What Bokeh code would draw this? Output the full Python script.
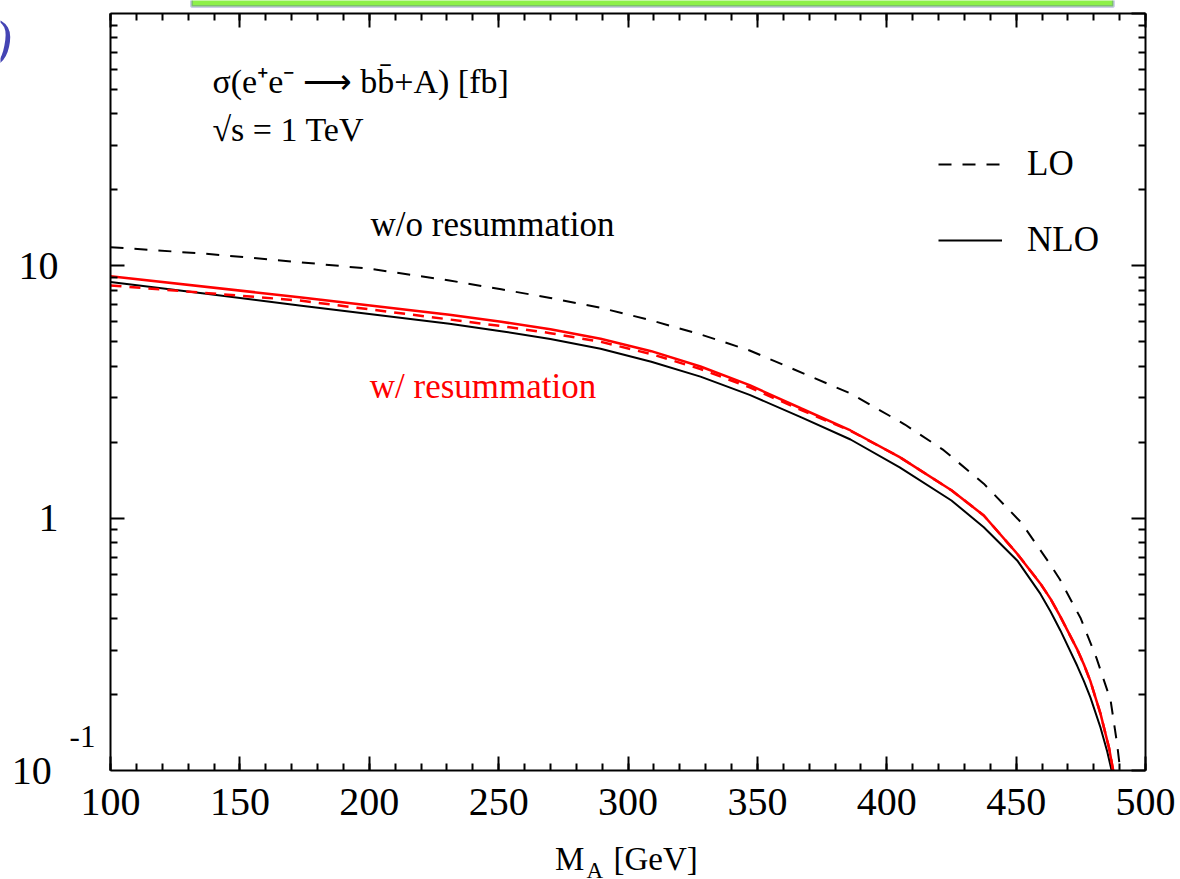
from bokeh.plotting import figure
from bokeh.models import (LinearAxis, LogAxis, Label, Legend, LegendItem,
                          FixedTicker, SingleIntervalTicker, BoxAnnotation)
from bokeh.embed import file_html
from bokeh.resources import INLINE

# ---- data ----
m_lo = [100, 137, 173, 200, 231, 251, 270, 289.4, 309, 328, 347, 386, 407, 422, 437.5,
        452, 463, 467, 475, 481, 486.5, 489, 490.5, 491.5]
sig_lo = [11.86, 11.16, 10.34, 9.74, 8.75, 8.07, 7.46, 6.82, 6.08, 5.35, 4.62, 3.12,
          2.35, 1.86, 1.37, 0.96, 0.66, 0.57, 0.40, 0.28, 0.19, 0.128, 0.095, 0.075]

m_nlo = [100, 137, 173, 231, 251, 270, 289.4, 309, 328, 347, 367, 386, 405, 425, 437.5,
         450.4, 459.4, 463.3, 467.1, 473.6, 476.2, 478.7, 482.6, 485.2, 486.9, 488]
sig_nlo = [8.62, 7.75, 6.97, 5.9, 5.51, 5.13, 4.69, 4.17, 3.64, 3.08, 2.51, 2.05, 1.59,
           1.175, 0.921, 0.68, 0.501, 0.427, 0.359, 0.26, 0.226, 0.195, 0.148, 0.119,
           0.1, 0.085]

m_res = [100, 173, 231, 251, 270, 289.4, 309, 328, 347, 367, 386, 405, 425, 437.5,
         450.4, 459.4, 463.3, 467.1, 473.6, 476.2, 478.7, 482.6, 485.9, 487.5, 488.5]
sig_res = [9.10, 7.51, 6.4, 6.0, 5.61, 5.14, 4.59, 3.99, 3.365, 2.72, 2.226, 1.745,
           1.29, 1.025, 0.723, 0.55, 0.479, 0.407, 0.302, 0.263, 0.226, 0.168, 0.123,
           0.1, 0.085]

m_res_lo = [100, 173, 231, 251, 270, 289.4, 309, 328, 347, 367, 386, 405, 425, 437.5,
            450.4, 459.4, 463.3, 467.1, 473.6, 476.2, 478.7, 482.6, 485.9, 487.5, 488.5]
sig_res_lo = [8.36, 7.29, 6.13, 5.77, 5.41, 5.0, 4.47, 3.9, 3.3, 2.68, 2.22, 1.745,
              1.29, 1.025, 0.723, 0.55, 0.479, 0.407, 0.302, 0.263, 0.226, 0.168, 0.123,
              0.1, 0.085]

x_lim = (100, 500)
y_lim = (0.1, 100)
y_labelled = [1, 10]
y_label_text = {1: "1", 10: "10"}
y_all_major = [0.1, 1, 10, 100]

FONT = "Liberation Serif"
W, H = 1180, 879
BL, BR, BT, BB = 110, 35, 13, 109

p = figure(width=W, height=H, x_range=x_lim, y_range=y_lim,
           y_axis_type="log", output_backend="svg", toolbar_location=None,
           min_border_left=BL, min_border_right=BR, min_border_top=BT,
           min_border_bottom=BB, x_axis_location=None, y_axis_location=None)
p.grid.visible = False
p.outline_line_color = None
p.background_fill_color = "white"
p.border_fill_color = "white"

y_minor = [m * d for d in (0.1, 1, 10) for m in range(2, 10)]
xt = SingleIntervalTicker(interval=50, num_minor_ticks=5)
yt_lab = FixedTicker(ticks=y_labelled, minor_ticks=y_minor)
yt_all = FixedTicker(ticks=y_all_major, minor_ticks=y_minor)


def style(ax, labels=True):
    ax.axis_line_width = 2
    ax.axis_line_color = "black"
    ax.major_tick_line_width = 2
    ax.minor_tick_line_width = 2
    ax.major_tick_in = 14
    ax.major_tick_out = 0
    ax.minor_tick_in = 7
    ax.minor_tick_out = 0
    ax.major_tick_line_color = "black"
    ax.minor_tick_line_color = "black"
    ax.major_label_text_font = FONT
    ax.major_label_text_color = "black"
    if labels:
        ax.major_label_text_font_size = "40px"
    else:
        ax.major_label_text_font_size = "1px"
        ax.major_label_text_alpha = 0
        ax.major_label_standoff = 0


bottom = LinearAxis(ticker=xt)
style(bottom)
bottom.major_label_standoff = 18
top = LinearAxis(ticker=xt)
style(top, labels=False)
left = LogAxis(ticker=yt_lab, major_label_overrides=y_label_text)
style(left)
left.major_label_standoff = 52
right = LogAxis(ticker=yt_all)
style(right, labels=False)
p.add_layout(bottom, "below")
p.add_layout(top, "above")
p.add_layout(left, "left")
p.add_layout(right, "right")

r_lo = p.line(m_lo, sig_lo, line_color="black", line_width=2, line_dash="13 11")
r_nlo = p.line(m_nlo, sig_nlo, line_color="black", line_width=2)
p.line(m_res_lo, sig_res_lo, line_color="#ff0000", line_width=2.5, line_dash="11 8")
p.line(m_res, sig_res, line_color="#ff0000", line_width=2.5)

legend = Legend(items=[LegendItem(label="LO", renderers=[r_lo]),
                       LegendItem(label="NLO", renderers=[r_nlo])],
                location=(828, 510), padding=0, margin=0, spacing=36,
                glyph_width=64, glyph_height=40, label_height=40,
                label_standoff=25, label_text_font=FONT,
                label_text_color="black",
                label_text_font_size="35px", border_line_alpha=0,
                background_fill_alpha=0)
p.add_layout(legend)


def lab(fig, x, y, text, size="33px", color="black", baseline="alphabetic",
        style_="normal"):
    fig.add_layout(Label(x=x, y=y, text=text, text_font=FONT, text_font_size=size,
                         text_color=color, text_baseline=baseline,
                         text_font_style=style_))


lab(p, 139.4, 53.8, "σ(e⁺e⁻ ⟶ bb̄+A) [fb]", "34px")
lab(p, 139.4, 34.7, "√s = 1 TeV", "34px")
lab(p, 200.5, 14.6, "w/o resummation", "35px")
lab(p, 200.2, 3.34, "w/ resummation", "35px", "#ff0000")

# ---- transparent overlay (separate root) with the same data mapping, covering the
#      whole canvas, for texts that sit outside the plot frame ----
fw = W - BL - BR
fh = H - BT - BB
ppx = fw / (x_lim[1] - x_lim[0])
ppy = fh / 3.0  # three decades
ov_x = (x_lim[0] - BL / ppx, x_lim[1] + BR / ppx)
ov_y = (10 ** (-1 - BB / ppy), 10 ** (2 + BT / ppy))

q = figure(width=W, height=H, x_range=ov_x, y_range=ov_y, y_axis_type="log",
           output_backend="svg", toolbar_location=None, min_border=0,
           x_axis_location=None, y_axis_location=None)
q.grid.visible = False
q.outline_line_color = None
q.background_fill_alpha = 0
q.border_fill_alpha = 0
q.styles = {"position": "absolute", "left": "0px", "top": "0px"}

# slide decorations cut at the top / left edge
q.add_layout(BoxAnnotation(left=131.3, right=487.6, bottom=106.6, top=123.5,
                           fill_color="#8ef04a", fill_alpha=1.0,
                           line_color="#5555bb", line_width=3))
lab(q, 55.2, 79.1, ")", "52px", "#4444b4", style_="italic")
lab(q, 61.8, 0.1, "10", "40px", baseline="middle")
lab(q, 84.2, 0.1365, "-1", "31px", baseline="middle")
lab(q, 271.8, 0.04478, "M", "33px")
lab(q, 284.0, 0.04014, "A", "23px")
lab(q, 294.4, 0.04478, "[GeV]", "33px")

open("out.html", "w").write(file_html([p, q], INLINE))
